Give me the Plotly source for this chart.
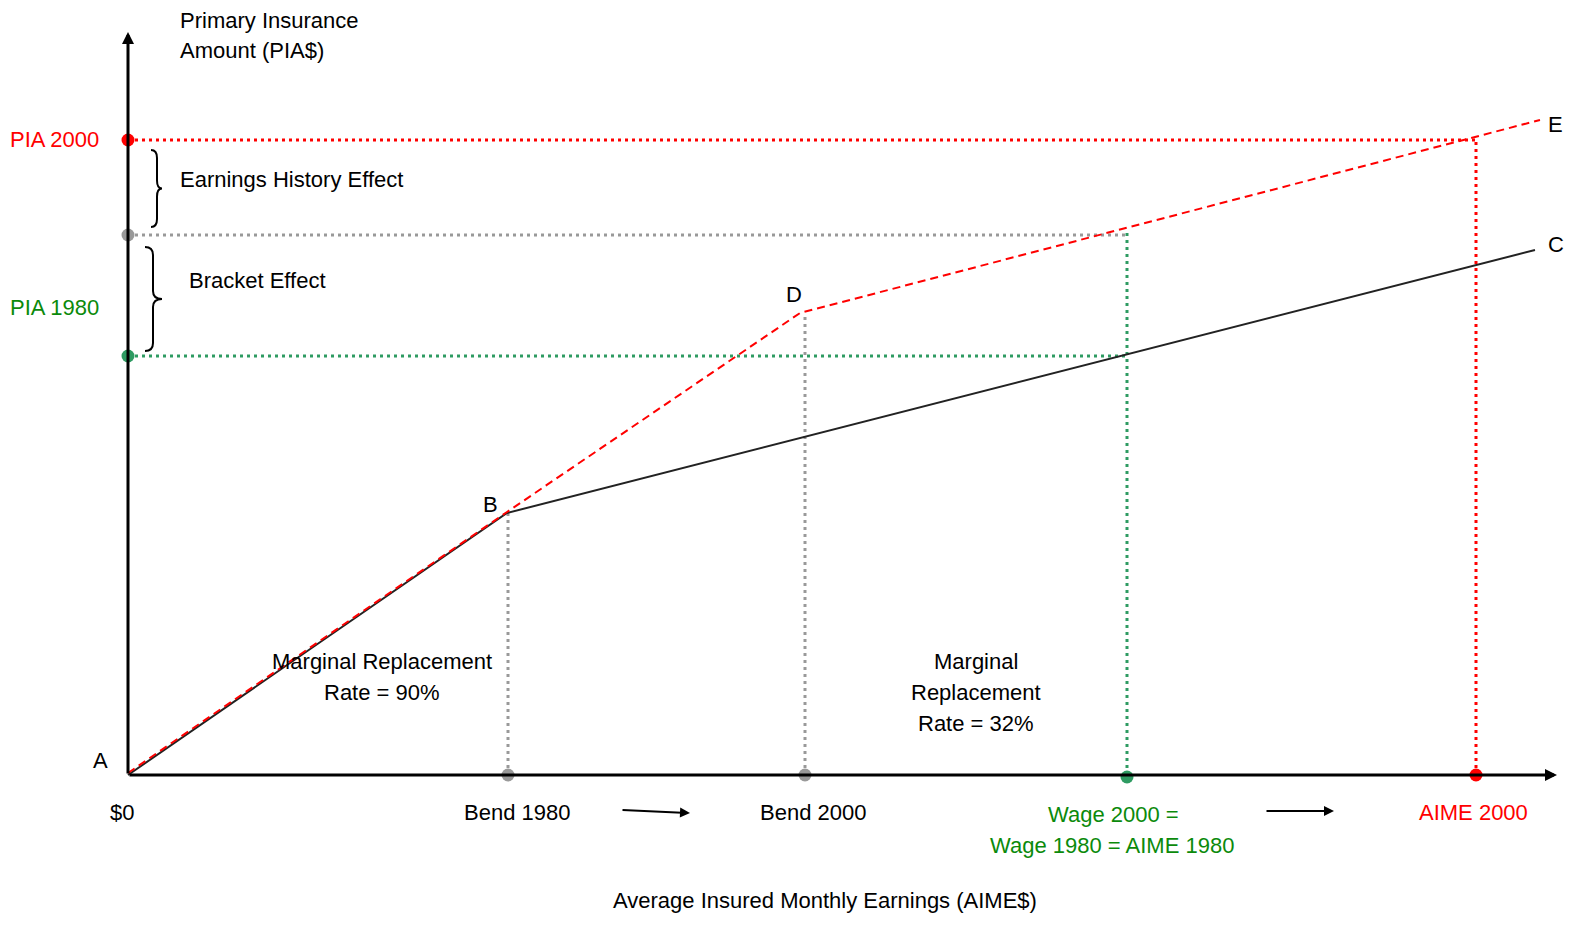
import plotly.graph_objects as go

# ---- data (diagram units: AIME$ on x, PIA$ on y) ----
curve_1980_x = [0, 379, 1407]          # A -> B -> C
curve_1980_y = [0, 262, 525]
curve_2000_x = [0, 379, 672, 1412]     # A -> B -> D -> E
curve_2000_y = [2, 263, 462, 655]

bend_1980 = 380
bend_2000 = 677
wage_aime_1980 = 999
aime_2000 = 1348

pia_1980 = 419
pia_wage_2000 = 540
pia_2000 = 635
pia_bend_1980 = 262
pia_bend_2000 = 462
pia_wage_top = 543

x_axis_end = 1429
y_axis_end = 743

RED = "#FF0000"
GRAY = "#999999"
GREEN_DOT = "#2E9B62"
GREEN_TXT = "#0B8A0B"
FONT = "Liberation Sans, Arial, sans-serif"

fig = go.Figure()

def line(x, y, color, width, dash):
    fig.add_trace(go.Scatter(x=x, y=y, mode="lines", hoverinfo="skip",
                             line=dict(color=color, width=width, dash=dash),
                             showlegend=False))

DOT = "3px,4px"
# guide lines
line([0, aime_2000], [pia_2000, pia_2000], RED, 3, DOT)
line([aime_2000, aime_2000], [0, pia_2000], RED, 3, DOT)
line([0, wage_aime_1980], [pia_wage_2000, pia_wage_2000], GRAY, 3, DOT)
line([bend_1980, bend_1980], [0, pia_bend_1980], GRAY, 3, DOT)
line([bend_2000, bend_2000], [0, pia_bend_2000], GRAY, 3, DOT)
line([0, wage_aime_1980], [pia_1980, pia_1980], GREEN_DOT, 3, DOT)
line([wage_aime_1980, wage_aime_1980], [0, pia_wage_top], GREEN_DOT, 3, DOT)

# formula curves
line(curve_1980_x, curve_1980_y, "#222222", 2, "solid")
line(curve_2000_x, curve_2000_y, RED, 2, "8px,5px")

# dots
dot_x = [0, 0, 0, bend_1980, bend_2000, wage_aime_1980, aime_2000]
dot_y = [pia_2000, pia_wage_2000, pia_1980, 0, 0, -2, 0]
dot_c = [RED, GRAY, GREEN_DOT, GRAY, GRAY, GREEN_DOT, RED]
fig.add_trace(go.Scatter(x=dot_x, y=dot_y, mode="markers", hoverinfo="skip",
                         marker=dict(color=dot_c, size=13, line=dict(width=0)),
                         showlegend=False))

ann = []

def text(x, y, s, color="black", xanchor="center", xshift=0, yshift=0, size=22):
    ann.append(dict(x=x, y=y, xref="x", yref="y", text=s, showarrow=False,
                    xanchor=xanchor, yanchor="middle", xshift=xshift, yshift=yshift,
                    font=dict(family=FONT, size=size, color=color)))

def arrow(x0, y0, x1, y1, width, size):
    ann.append(dict(x=x1, y=y1, ax=x0, ay=y0, xref="x", yref="y", axref="x", ayref="y",
                    text="", showarrow=True, arrowhead=2, arrowsize=size,
                    arrowwidth=width, arrowcolor="black", standoff=0, startstandoff=0))

# axes
arrow(0, 0, x_axis_end, 0, 3, 0.8)
arrow(0, 0, 0, y_axis_end, 3, 0.8)

# small direction arrows under the axis
arrow(493, -35, 562, -38, 2, 1.0)
arrow(1137, -36, 1206, -36, 2, 1.0)

# labels
text(50, 755, "Primary Insurance", xanchor="left")
text(50, 725, "Amount (PIA$)", xanchor="left")
text(0, pia_2000, "PIA 2000", RED, xanchor="right", xshift=-27, yshift=1)
text(0, pia_1980, "PIA 1980", GREEN_TXT, xanchor="right", xshift=-27, yshift=49)
text(50, 596, "Earnings History Effect", xanchor="left")
text(59, 495, "Bracket Effect", xanchor="left")

text(0, 0, "A", xshift=-28, yshift=15)
text(curve_1980_x[1], curve_1980_y[1], "B", xshift=-17, yshift=9)
text(curve_2000_x[2], curve_2000_y[2], "D", xshift=-6, yshift=19)
text(curve_2000_x[3], curve_2000_y[3], "E", xanchor="left", xshift=6, yshift=-4)
text(curve_1980_x[2], curve_1980_y[2], "C", xanchor="left", xshift=11, yshift=6)

text(254, 114, "Marginal Replacement")
text(254, 83, "Rate = 90%")
text(848, 114, "Marginal")
text(848, 83, "Replacement")
text(848, 52, "Rate = 32%")

text(0, 0, "$0", xshift=-6, yshift=-37)
text(bend_1980, 0, "Bend 1980", xshift=9, yshift=-37)
text(bend_2000, 0, "Bend 2000", xshift=8, yshift=-37)
text(wage_aime_1980, 0, "Wage 2000 =", GREEN_TXT, xshift=-14, yshift=-39)
text(wage_aime_1980, 0, "Wage 1980 = AIME 1980", GREEN_TXT, xshift=-15, yshift=-70)
text(aime_2000, 0, "AIME 2000", RED, xshift=-3, yshift=-37)
text(697, -125, "Average Insured Monthly Earnings (AIME$)")

# curly braces
def brace(xl, xs, xt, top, bot, r=8):
    mid = (top + bot) / 2
    return (f"M {xl},{top} Q {xs},{top} {xs},{top - r} L {xs},{mid + r} "
            f"Q {xs},{mid} {xt},{mid} Q {xs},{mid} {xs},{mid - r} "
            f"L {xs},{bot + r} Q {xs},{bot} {xl},{bot}")

shapes = [
    dict(type="path", xref="x", yref="y", path=brace(23, 29, 34, pia_2000 - 10, pia_wage_2000 + 8),
         line=dict(color="black", width=2)),
    dict(type="path", xref="x", yref="y", path=brace(17, 25, 34, pia_wage_2000 - 12, pia_1980 + 5),
         line=dict(color="black", width=2)),
]

fig.update_layout(
    width=1591, height=926,
    margin=dict(l=0, r=0, t=0, b=0),
    paper_bgcolor="white", plot_bgcolor="white",
    xaxis=dict(range=[-128, 1463], visible=False, fixedrange=True),
    yaxis=dict(range=[-151, 775], visible=False, fixedrange=True),
    annotations=ann, shapes=shapes,
    showlegend=False,
)

fig.write_html("out.html", config={"displayModeBar": False},
               post_script="document.body.style.margin='0';document.body.style.overflow='hidden';")
